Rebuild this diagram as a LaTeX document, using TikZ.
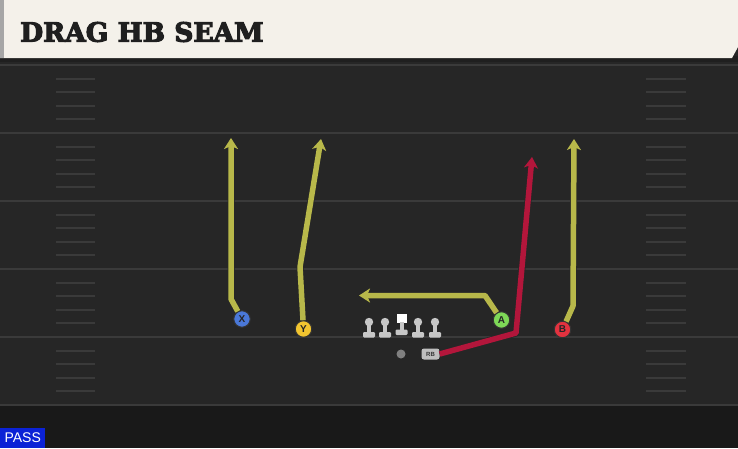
\documentclass[tikz,border=0pt]{standalone}
\usepackage{fontspec}
\usepackage{tikz}
\usetikzlibrary{arrows.meta}

\newfontfamily\titlefont[BoldFeatures={FakeBold=4}]{DejaVu Serif}
\newfontfamily\labelfont{Liberation Sans}

\definecolor{field}{HTML}{262626}
\definecolor{fieldline}{HTML}{3A3A3A}
\definecolor{cream}{HTML}{F4F1EA}
\definecolor{routegold}{HTML}{B8B84A}
\definecolor{routered}{HTML}{B3163B}
\definecolor{xblue}{HTML}{4A78D8}
\definecolor{yyellow}{HTML}{F2C530}
\definecolor{agreen}{HTML}{7ED957}
\definecolor{bred}{HTML}{E3323F}
\definecolor{passblue}{HTML}{0B22D6}

\begin{document}
\begin{tikzpicture}[x=1pt,y=-1pt,
	route/.style={line width=5.5pt, draw=routegold, line join=round,
		-{Stealth[length=11pt,width=14pt,inset=3pt]},
		preaction={draw=black!85, line width=7pt}},
	player/.style={circle, draw=black!80, line width=1pt, minimum size=16.5pt,
		inner sep=0pt, text=black!85, font=\labelfont\bfseries\fontsize{10}{10}\selectfont},
	lineman/.style={fill=black!22}]
	
	\useasboundingbox (0,0) rectangle (738,448);
	\fill[field] (0,0) rectangle (738,448);
	\fill[black!90] (0,406) rectangle (738,448);
	
	% yard lines and hashes
	\foreach \ly in {65,133,201,269,337,405}
		\draw[fieldline, line width=2.5pt] (0,\ly) -- (738,\ly);
	\foreach \ly in {65,133,201,269,337}
		\foreach \k in {1,...,4} {
			\draw[fieldline, line width=2pt] (56,\ly+13.6*\k) -- (95,\ly+13.6*\k);
			\draw[fieldline, line width=2pt] (646,\ly+13.6*\k) -- (686,\ly+13.6*\k);
		}
	
	% header
	\fill[black!88] (0,56) rectangle (738,62);
	\fill[cream] (0,0) -- (738,0) -- (738,47) -- (732,58) -- (0,58) -- cycle;
	\fill[black!35] (0,0) rectangle (4,58);
	\node[anchor=west, inner sep=0pt, text=black!88,
		font=\titlefont\bfseries\fontsize{26.5}{26.5}\selectfont] (title) at (20,32) {DRAG HB SEAM};
	
	% offensive line
	\foreach \px in {369,385,418,435} {
		\fill[lineman] (\px-2,322) rectangle (\px+2,334);
		\fill[lineman] (\px,322) circle (4.2);
		\fill[lineman, rounded corners=1.2pt] (\px-6,332) rectangle (\px+6,337.5);
	}
	\fill[white] (396.5,313.5) rectangle (406.5,323);
	\fill[lineman] (399.5,322) rectangle (403.5,331);
	\fill[lineman, rounded corners=1.2pt] (395.5,329.5) rectangle (407.5,335);
	
	\node[circle, fill=black!50, minimum size=9pt, inner sep=0pt] (qb) at (401,354) {};
	\node[fill=black!25, rounded corners=2.5pt, minimum width=18pt, minimum height=11pt,
		inner sep=0pt, text=black!80, font=\labelfont\bfseries\fontsize{6}{6}\selectfont] (rb) at (430.5,354) {RB};
	
	% receivers
	\node[player, fill=xblue] (X) at (242,319) {X};
	\node[player, fill=yyellow] (Y) at (303.5,329) {Y};
	\node[player, fill=agreen] (A) at (501.5,320) {A};
	\node[player, fill=bred] (B) at (562.5,329.5) {B};
	
	\coordinate (xb) at (231,299);
	\coordinate (xe) at (231,138);
	\coordinate (yb) at (300,267);
	\coordinate (ye) at (321,139);
	\coordinate (ab) at (485,295.5);
	\coordinate (ae) at (359,295.5);
	\coordinate (bb) at (573,306);
	\coordinate (be) at (574,139);
	\coordinate (rbb) at (516,333);
	\coordinate (rbe) at (532,157);
	
	\draw[route] (X) -- (xb) -- (xe);
	\draw[route] (Y) -- (yb) -- (ye);
	\draw[route] (A) -- (ab) -- (ae);
	\draw[route] (B) -- (bb) -- (be);
	\draw[route, draw=routered] (rb.east) -- (rbb) -- (rbe);
	
	\node[fill=passblue, text=white, anchor=south west, minimum width=45pt,
		minimum height=20pt, inner sep=0pt, font=\labelfont\fontsize{14}{14}\selectfont] (pass) at (0,448) {PASS};
	
\end{tikzpicture}
\end{document}
